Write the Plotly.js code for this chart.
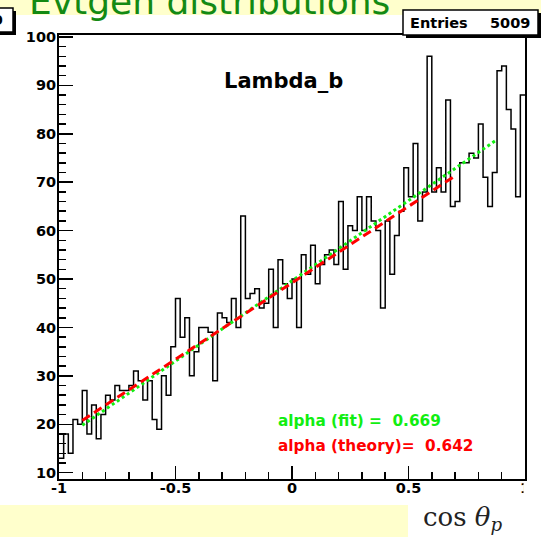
<!DOCTYPE html>
<html><head><meta charset="utf-8">
<script src="https://cdn.plot.ly/plotly-3.0.1.min.js"></script>
<style>html,body{margin:0;padding:0;background:#fff;overflow:hidden}#chart{width:541px;height:537px}</style>
</head><body><div id="chart"></div>
<script>
// ---- data ----
const counts = [
  13, 18, 14, 21, 20, 27, 18, 24, 17, 22,
  26, 25, 28, 27, 27, 28, 31, 29, 25, 29,
  21, 19, 30, 26, 36, 46, 38, 42, 30, 35,
  40, 40, 39, 29, 43, 42, 41, 46, 40, 63,
  46, 47, 48, 44, 45, 52, 40, 54, 49, 46,
  50, 40, 55, 51, 57, 49, 53, 55, 56, 53,
  66, 52, 61, 60, 67, 60, 67, 62, 60, 44,
  62, 51, 59, 64, 73, 67, 78, 62, 68, 96,
  68, 73, 68, 87, 65, 66, 74, 74, 76, 75,
  82, 71, 65, 72, 93, 94, 85, 81, 67, 88
];
const binLow = -1, binHigh = 1;
const fitX = [-0.9, 0.88];
const fitY = [19.8, 78.8];
const theoryX = [-0.9, 0.69];
const theoryY = [20.8, 71.0];
const xTickVals = [-1, -0.5, 0, 0.5, 1];
const xTickText = ['-1', '-0.5', '0', '0.5', '1'];
const yTickVals = [10, 20, 30, 40, 50, 60, 70, 80, 90, 100];
const yTickText = ['10', '20', '30', '40', '50', '60', '70', '80', '90', '100'];
const entries = '5009';

// ---- step outline built from the bins ----
const nb = counts.length, bw = (binHigh - binLow) / nb;
const stepX = [], stepY = [];
for (let i = 0; i < nb; i++) { stepX.push(binLow + i * bw); stepY.push(counts[i]); }
stepX.push(binHigh); stepY.push(counts[nb - 1]);

// ---- geometry helpers (pixel -> paper) ----
const W = 541, H = 537, L = 59, R = 16, T = 35, B = 58;
const PW = W - L - R, PH = H - T - B;
const px = x => (x - L) / PW;
const py = y => (H - B - y) / PH;

const FAM = 'DejaVu Sans, Liberation Sans, sans-serif';
const bold = (size, color) => ({family: FAM, size: size, color: color || '#000', weight: 'bold'});

const traces = [
  {x: stepX, y: stepY, type: 'scatter', mode: 'lines', line: {shape: 'hv', color: '#000', width: 1.5}, hoverinfo: 'skip'},
  {x: fitX, y: fitY, type: 'scatter', mode: 'lines', line: {color: '#11ee11', width: 3, dash: '3px,3px'}, hoverinfo: 'skip'},
  {x: theoryX, y: theoryY, type: 'scatter', mode: 'lines', line: {color: '#ff0000', width: 3, dash: '9px,5px'}, hoverinfo: 'skip'}
];

const rect = (x0, y0, x1, y1, fill, line, lw, layer) => ({
  type: 'rect', xref: 'paper', yref: 'paper',
  x0: px(x0), x1: px(x1), y0: py(y1), y1: py(y0),
  fillcolor: fill, line: {color: line || fill, width: lw || 0}, layer: layer || 'above'
});

const layout = {
  width: W, height: H,
  margin: {l: L, r: R, t: T, b: B, pad: 0},
  paper_bgcolor: '#ffffff', plot_bgcolor: '#ffffff',
  showlegend: false,
  xaxis: {
    range: [binLow, binHigh], tickvals: xTickVals, ticktext: xTickText,
    ticks: 'inside', ticklen: 13, tickwidth: 1.5, tickcolor: '#000',
    minor: {dtick: 0.1, tick0: 0, ticks: 'inside', ticklen: 7, tickwidth: 1.5, tickcolor: '#000', showgrid: false},
    showline: true, linecolor: '#000', linewidth: 2, mirror: true,
    showgrid: false, zeroline: false, tickfont: bold(14.5), ticklabelstandoff: -5
  },
  yaxis: {
    range: [8.7, 100.4], tickvals: yTickVals, ticktext: yTickText,
    ticks: 'inside', ticklen: 14, tickwidth: 1.5, tickcolor: '#000',
    minor: {dtick: 2, tick0: 0, ticks: 'inside', ticklen: 7, tickwidth: 1.5, tickcolor: '#000', showgrid: false},
    showline: true, linecolor: '#000', linewidth: 2, mirror: true,
    showgrid: false, zeroline: false, tickfont: bold(14.5), ticklabelstandoff: -2
  },
  shapes: [
    rect(0, 0, 541, 15, '#ffffcc', null, 0, 'below'),
    rect(0, 505, 408, 537, '#ffffcc', null, 0, 'below'),
    rect(523.5, 481, 541, 502, '#ffffff', null, 0, 'above'),
    // cut-off title box at left
    rect(-10, 11, 16, 35, '#000000'),
    rect(-10, 8, 13, 32, '#ffffff', '#000000', 1.5),
    // stats box
    rect(406, 13, 541, 38, '#000000'),
    rect(403, 10, 538, 35, '#ffffff', '#000000', 1.5)
  ],
  annotations: [
    {xref: 'paper', yref: 'paper', x: px(27), y: py(24), xanchor: 'left', yanchor: 'bottom',
     text: 'Evtgen distributions', showarrow: false,
     font: {family: 'DejaVu Sans, sans-serif', size: 36, color: '#138a13'}},
    {xref: 'paper', yref: 'paper', x: px(5), y: py(20), xanchor: 'right', yanchor: 'middle',
     text: '9', showarrow: false, font: bold(14.5)},
    {xref: 'paper', yref: 'paper', x: px(408), y: py(23), xanchor: 'left', yanchor: 'middle',
     text: 'Entries', showarrow: false, font: bold(14.5)},
    {xref: 'paper', yref: 'paper', x: px(532), y: py(23), xanchor: 'right', yanchor: 'middle',
     text: entries, showarrow: false, font: bold(14.5)},
    {xref: 'paper', yref: 'paper', x: px(283), y: py(81), xanchor: 'center', yanchor: 'middle',
     text: 'Lambda_b', showarrow: false, font: bold(21)},
    {xref: 'paper', yref: 'paper', x: px(276), y: py(421), xanchor: 'left', yanchor: 'middle',
     text: 'alpha (fit) =  0.669', showarrow: false, font: bold(15.3, '#11ee11')},
    {xref: 'paper', yref: 'paper', x: px(276), y: py(446), xanchor: 'left', yanchor: 'middle',
     text: 'alpha (theory)=  0.642', showarrow: false, font: bold(15.3, '#ff0000')},
    {xref: 'paper', yref: 'paper', x: px(421), y: py(518), xanchor: 'left', yanchor: 'middle',
     text: 'cos <i>θ</i><sub><i>p</i></sub>', showarrow: false,
     font: {family: 'DejaVu Serif, Liberation Serif, serif', size: 26, color: '#222'}}
  ]
};

Plotly.newPlot('chart', traces, layout, {displayModeBar: false, staticPlot: true});
</script>
</body></html>
